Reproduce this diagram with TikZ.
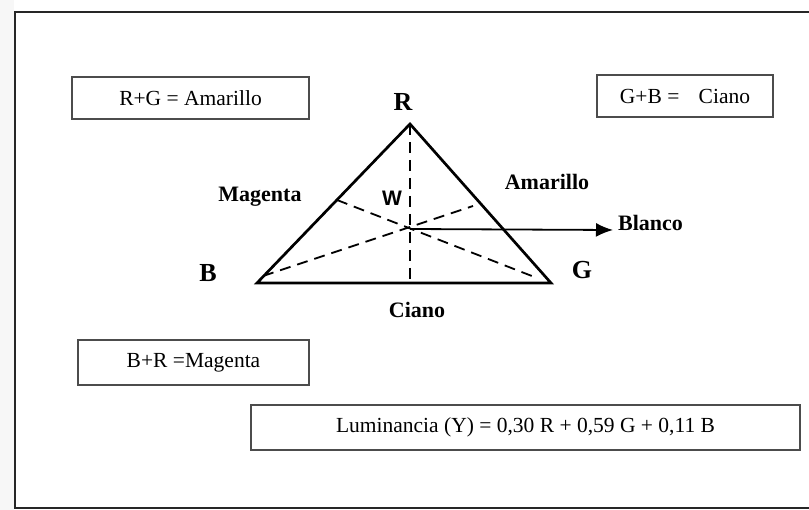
\documentclass[tikz,border=0pt]{standalone}
\usepackage{fontspec}
\setmainfont{Liberation Serif}
\newfontfamily\wfont{Liberation Sans}
\usetikzlibrary{arrows.meta}
\begin{document}
\begin{tikzpicture}[x=1pt,y=-1pt,
  boxnode/.style={draw=black!70, line width=1.5pt, inner sep=0pt, font=\fontsize{21.5}{24}\selectfont},
  lbl/.style={font=\bfseries\fontsize{22}{24}\selectfont, inner sep=0pt},
  vtx/.style={font=\bfseries\fontsize{26}{28}\selectfont, inner sep=0pt},
  edgeline/.style={line width=2.7pt, line join=miter},
  dashline/.style={line width=1.8pt, dash pattern=on 11pt off 7pt}]
\useasboundingbox (0,0) rectangle (809,510);
\fill[gray!6] (0,0) rectangle (14,510);
\draw[line width=2.8pt, black!85] (809,12) -- (15,12) -- (15,508) -- (809,508);

% boxes
\node[boxnode, minimum width=237pt, minimum height=42pt] (rg) at (190.5,98) {R+G = Amarillo};
\node[boxnode, minimum width=176pt, minimum height=42pt] (gb) at (685,96) {G+B =\hspace{0.9em}Ciano};
\node[boxnode, minimum width=231pt, minimum height=45pt] (br) at (193.5,362.5) {B+R =Magenta};
\node[boxnode, minimum width=549pt, minimum height=45pt] (lum) at (525.5,427.5) {Luminancia (Y) = 0,30 R + 0,59 G + 0,11 B};

% triangle
\coordinate (R) at (410,124);
\coordinate (B) at (257,283);
\coordinate (G) at (551,283);
\coordinate (W) at (410,229);
\coordinate (Cb) at (410,283);
\coordinate (M1) at (337,200);
\coordinate (M2) at (537,278);
\coordinate (A1) at (263,276);
\coordinate (A2) at (473,206);
\coordinate (Bl) at (613,230);

\draw[dashline] (R) -- (Cb);
\draw[dashline] (M1) -- (M2);
\draw[dashline] (A1) -- (A2);
\draw[edgeline] (R) -- (B) -- (G) -- cycle;
\draw[line width=1.8pt, -{Latex[length=17pt,width=14pt]}] (W) -- (Bl);

% labels
\node[vtx] (lr) at (403,102) {R};
\node[vtx] (lb) at (208,273) {B};
\node[vtx] (lg) at (582,270) {G};
\node[inner sep=0pt, font=\wfont\bfseries\fontsize{21}{24}\selectfont] (lw) at (392,198) {W};
\node[lbl] (lm) at (260,197) {Magenta};
\node[lbl] (la) at (547,182) {Amarillo};
\node[lbl, anchor=west] (lbl1) at (618,223) {Blanco};
\node[lbl] (lc) at (417,310) {Ciano};
\end{tikzpicture}
\end{document}
